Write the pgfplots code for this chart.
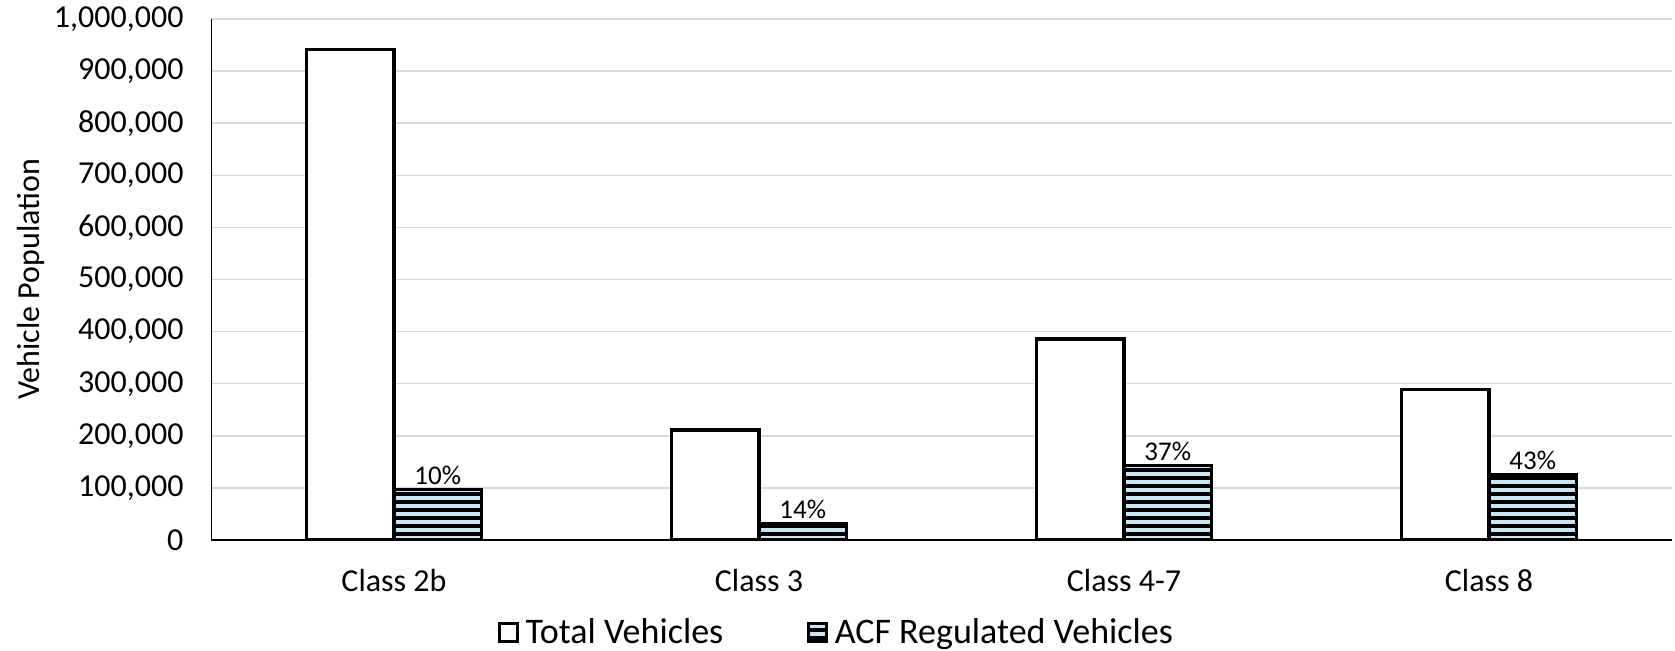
\documentclass[border=0pt]{standalone}
\usepackage{fontspec}
\setmainfont{Carlito}
\usepackage{pgfplots}
\pgfplotsset{compat=1.18}
\usetikzlibrary{patterns}
\pgfdeclarepatternformonly{hstripes}{\pgfqpoint{-1pt}{-1pt}}{\pgfqpoint{5pt}{5pt}}{\pgfqpoint{4pt}{4pt}}{%
  \pgfsetlinewidth{1.8pt}%
  \pgfpathmoveto{\pgfqpoint{-1pt}{2pt}}%
  \pgfpathlineto{\pgfqpoint{5pt}{2pt}}%
  \pgfusepath{stroke}}
\definecolor{acfblue}{RGB}{201,228,243}
\definecolor{gridgray}{RGB}{217,217,217}
\begin{document}
\begin{tikzpicture}
\path[use as bounding box] (-105.75pt,-55pt) rectangle (731.75pt,270pt);
\begin{axis}[
  at={(0,0)}, anchor=south west,
  scale only axis,
  width=730pt, height=260.5pt,
  xmin=-0.5, xmax=3.5,
  ymin=0, ymax=1000000,
  xtick={0,1,2,3},
  xticklabels={Class 2b, Class 3, Class 4-7, Class 8},
  ytick={0,100000,...,1000000},
  scaled y ticks=false,
  /pgf/number format/fixed,
  /pgf/number format/1000 sep={,},
  /pgf/number format/assume math mode=true,
  yticklabel style={font=\fontsize{16}{19}\selectfont, xshift=-10.5pt},
  xticklabel style={font=\fontsize{16}{19}\selectfont, yshift=-11pt},
  major tick length=0pt,
  ymajorgrids,
  grid style={gridgray, line width=0.75pt},
  axis x line*=bottom,
  axis y line*=left,
  x axis line style={line width=0.8pt, -},
  y axis line style={line width=0.6pt, -},
  ylabel={Vehicle Population},
  ylabel style={font=\fontsize{16}{19}\selectfont, at={(axis description cs:-0.1235,0.5)}, anchor=center},
  ybar, bar width=43.8pt,
  legend style={at={(313pt,-46pt)}, anchor=center, draw=none, font=\fontsize{18}{21}\selectfont,
    legend columns=2, /tikz/every even column/.append style={column sep=40pt}},
  legend image code/.code={\draw[#1, line width=1.5pt] (0pt,-4.5pt) rectangle (9pt,4.5pt);
    \pgfpathmoveto{\pgfqpoint{11pt}{0pt}}\pgfusepath{discard}},
]
\addplot[draw=black, fill=white, line width=1.7pt, bar shift=-21.9pt] coordinates {
  (0,941000) (1,211000) (2,386000) (3,289000)};
\addlegendentry{Total Vehicles}
\addplot[draw=black, fill=acfblue, line width=1.7pt, bar shift=21.9pt,
  postaction={pattern=hstripes, pattern color=black},
  point meta=explicit symbolic,
  nodes near coords,
  every node near coord/.append style={font=\fontsize{13.5}{16}\selectfont, anchor=south, inner sep=1.5pt}
] coordinates {
  (0,97000) [10\%] (1,31000) [14\%] (2,143500) [37\%] (3,125000) [43\%]};
\addlegendentry{ACF Regulated Vehicles}
\end{axis}
\end{tikzpicture}
\end{document}
